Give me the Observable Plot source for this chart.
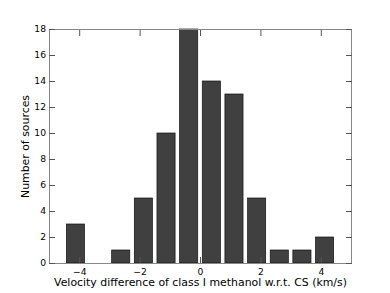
<!DOCTYPE html>
<html>
<head>
<meta charset="utf-8">
<script src="https://cdn.jsdelivr.net/npm/d3@7"></script>
<script src="https://cdn.jsdelivr.net/npm/@observablehq/plot@0.6"></script>
<style>
  html, body { margin: 0; padding: 0; background: #fff; }
  svg { font-family: "DejaVu Sans", sans-serif; }
</style>
</head>
<body>
<div id="chart"></div>
<script>
// Histogram bins (centers, km/s) and counts
const binCenters = [-4.125, -3.375, -2.625, -1.875, -1.125, -0.375, 0.375, 1.125, 1.875, 2.625, 3.375, 4.125];
const counts     = [3, 0, 1, 5, 10, 18, 14, 13, 5, 1, 1, 2];
const xTicks = [-4, -2, 0, 2, 4];
const yTicks = [0, 2, 4, 6, 8, 10, 12, 14, 16, 18];
const xLabel = "Velocity difference of class I methanol w.r.t. CS (km/s)";
const yLabel = "Number of sources";

const data = binCenters.map((c, i) => ({c, n: counts[i]}));
const half = 0.3; // bar half-width (rwidth 0.8 of 0.75 bin)
const fsTick = 9.2;
const fsLabel = 10.9;
const tickColor = "#555";

const chart = Plot.plot({
  width: 390,
  height: 293,
  marginLeft: 49,
  marginRight: 39,
  marginTop: 29,
  marginBottom: 30,
  style: {fontFamily: "'DejaVu Sans', sans-serif", fontSize: fsTick + "px", color: "#000", background: "#fff"},
  x: {domain: [-5, 5]},
  y: {domain: [0, 18]},
  marks: [
    Plot.rectY(data, {x1: d => d.c - half, x2: d => d.c + half, y1: 0, y2: "n", fill: "#404040", stroke: "#111", strokeWidth: 0.7}),
    Plot.frame({stroke: "#888", strokeWidth: 1}),
    Plot.axisX(xTicks, {anchor: "bottom", tickSize: -6, tickFormat: () => "", stroke: tickColor, label: null}),
    Plot.axisX(xTicks, {anchor: "top", tickSize: -6, tickFormat: () => "", stroke: tickColor, label: null}),
    Plot.axisY(yTicks, {anchor: "left", tickSize: -6, tickFormat: () => "", stroke: tickColor, label: null}),
    Plot.axisY(yTicks, {anchor: "right", tickSize: -6, tickFormat: () => "", stroke: tickColor, label: null}),
    Plot.axisX(xTicks, {anchor: "bottom", tickSize: 0, tickPadding: 5, fontSize: fsTick, label: null, tickFormat: d => d < 0 ? "\u2212" + Math.abs(d) : String(d)}),
    Plot.axisY(yTicks, {anchor: "left", tickSize: 0, tickPadding: 3.5, fontSize: fsTick, label: null}),
    Plot.text([xLabel], {frameAnchor: "bottom", textAnchor: "middle", lineAnchor: "bottom", dy: 22.5, fontSize: fsLabel, fill: "#000"}),
    Plot.text([yLabel], {frameAnchor: "left", textAnchor: "middle", lineAnchor: "middle", dx: -24.5, rotate: -90, fontSize: fsLabel, fill: "#000"})
  ]
});
document.getElementById("chart").appendChild(chart);
</script>
</body>
</html>
